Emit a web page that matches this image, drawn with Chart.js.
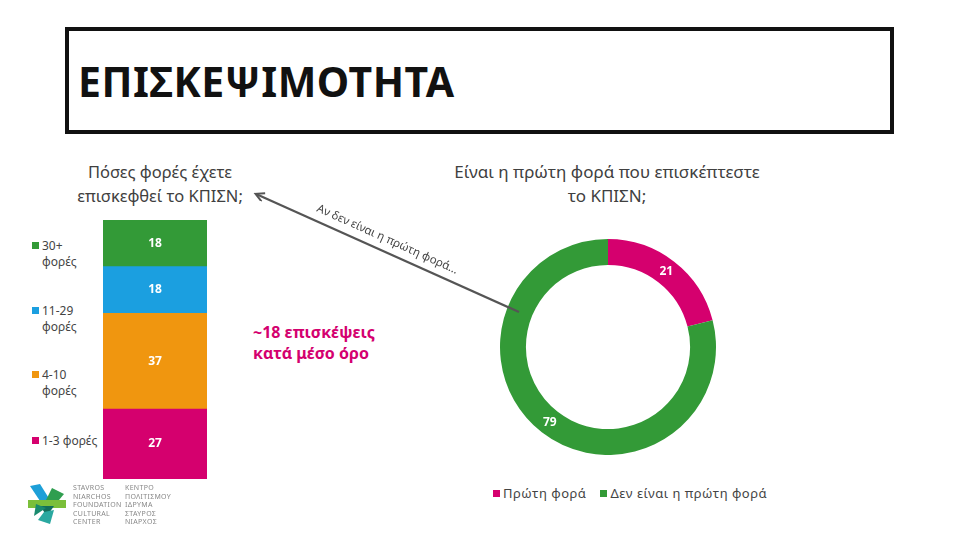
<!DOCTYPE html>
<html>
<head>
<meta charset="utf-8">
<script src="https://cdn.jsdelivr.net/npm/chart.js@4"></script>
<style>
  body { margin: 0; width: 960px; height: 540px; background: #fff; position: relative; overflow: hidden; font-family: "Noto Sans", "DejaVu Sans", sans-serif; }
  .abs { position: absolute; }
  #titleBox { left: 65px; top: 27px; width: 821px; height: 99px; border: 4px solid #111; }
  #titleBox span { position: absolute; left: 9px; top: 22px; font-size: 41px; font-weight: bold; color: #111; letter-spacing: 0.5px; }
  .qtitle { color: #404040; font-size: 17px; line-height: 24px; text-align: center; }
  .leg { font-size: 12px; color: #444; line-height: 16px; }
  .sw { display: inline-block; width: 7px; height: 7px; margin-right: 3px; vertical-align: 1px; }
  .note { color: #d4006f; font-weight: bold; font-size: 16px; line-height: 21px; }
  .logoTxt { font-size: 7px; line-height: 8.5px; color: #888; letter-spacing: 0.3px; }
</style>
</head>
<body>
<div id="titleBox" class="abs"><span>ΕΠΙΣΚΕΨΙΜΟΤΗΤΑ</span></div>

<div class="abs qtitle" style="left:40px; top:160px; width:240px; font-size:16.5px;">Πόσες φορές έχετε<br>επισκεφθεί το ΚΠΙΣΝ;</div>
<div class="abs qtitle" style="left:447px; top:160px; width:320px;">Είναι η πρώτη φορά που επισκέπτεστε<br>το ΚΠΙΣΝ;</div>

<div id="barLegend"></div>

<div class="abs note" style="left:253px; top:322px;">~18 επισκέψεις<br>κατά μέσο όρο</div>

<div class="abs" style="left:103px; top:220px; width:104px; height:259px;"><canvas id="barChart"></canvas></div>
<div class="abs" style="left:500px; top:239px; width:216px; height:216px;"><canvas id="donutChart"></canvas></div>

<div id="donutLegend" class="abs leg" style="left:493px; top:485px; font-size:13px; letter-spacing:0.5px;"></div>

<svg class="abs" style="left:0; top:0;" width="960" height="540">
  <defs>
    <marker id="ah" markerWidth="12" markerHeight="12" refX="9" refY="5" orient="auto" markerUnits="userSpaceOnUse">
      <path d="M1,0.5 L9.5,5 L1,9.5" fill="none" stroke="#555" stroke-width="2"/>
    </marker>
  </defs>
  <line x1="519" y1="312" x2="256" y2="194" stroke="#555" stroke-width="2.2" marker-end="url(#ah)"/>
  <text x="0" y="0" transform="translate(316,211) rotate(24.2)" font-size="11.5" fill="#444" font-family="Noto Sans, sans-serif">Αν δεν είναι η πρώτη φορά...</text>
  <!-- logo -->
  <g transform="translate(28,484)">
    <polygon points="2,2 12,0 22,16 14,20" fill="#1d9fd8"/>
    <polygon points="24,4 36,10 26,22 18,16" fill="#2f9e4f"/>
    <polygon points="0,16 38,16 38,24 0,24" fill="#7bbf3a"/>
    <polygon points="12,22 26,22 19,32" fill="#126e5a"/>
    <polygon points="16,28 26,26 22,40 10,36" fill="#2aa8a0"/>
    <polygon points="8,20 18,24 6,32" fill="#1a8a6e"/>
  </g>
</svg>
<div class="abs logoTxt" style="left:73px; top:484px;">STAVROS<br>NIARCHOS<br>FOUNDATION<br>CULTURAL<br>CENTER</div>
<div class="abs logoTxt" style="left:125px; top:484px;">ΚΕΝΤΡΟ<br>ΠΟΛΙΤΙΣΜΟΥ<br>ΙΔΡΥΜΑ<br>ΣΤΑΥΡΟΣ<br>ΝΙΑΡΧΟΣ</div>

<script>
// Δεδομένα
const visitCategories = ['1-3 φορές', '4-10 φορές', '11-29 φορές', '30+ φορές'];
const visitLegendLines = [['1-3 φορές'], ['4-10', 'φορές'], ['11-29', 'φορές'], ['30+', 'φορές']];
const visitValues = [27, 37, 18, 18];
const visitColors = ['#d5006e', '#f0960f', '#1b9fe0', '#339a37'];

const firstLabels = ['Πρώτη φορά', 'Δεν είναι η πρώτη φορά'];
const firstValues = [21, 79];
const firstColors = ['#d5006e', '#339a37'];

// plugin nhỏ để vẽ số ở giữa mỗi phần
const valueLabels = {
  id: 'valueLabels',
  afterDatasetsDraw(chart) {
    const ctx = chart.ctx;
    ctx.save();
    ctx.fillStyle = '#fff';
    ctx.font = 'bold 12px "Noto Sans", sans-serif';
    ctx.textAlign = 'center';
    ctx.textBaseline = 'middle';
    chart.data.datasets.forEach((ds, i) => {
      chart.getDatasetMeta(i).data.forEach((el, j) => {
        const p = chart.config.type === 'bar' ? el.getCenterPoint() : el.tooltipPosition();
        ctx.fillText(ds.data[j], p.x, p.y);
      });
    });
    ctx.restore();
  }
};

new Chart(document.getElementById('barChart'), {
  type: 'bar',
  data: {
    labels: [''],
    datasets: visitCategories.map((c, i) => ({
      label: c,
      data: [visitValues[i]],
      backgroundColor: visitColors[i],
      barPercentage: 1,
      categoryPercentage: 1
    }))
  },
  options: {
    responsive: true,
    maintainAspectRatio: false,
    animation: false,
    plugins: { legend: { display: false }, tooltip: { enabled: false } },
    scales: {
      x: { stacked: true, display: false },
      y: { stacked: true, display: false, min: 0, max: 100 }
    }
  },
  plugins: [valueLabels]
});

new Chart(document.getElementById('donutChart'), {
  type: 'doughnut',
  data: {
    labels: firstLabels,
    datasets: [{ data: firstValues, backgroundColor: firstColors, borderWidth: 0 }]
  },
  options: {
    responsive: true,
    maintainAspectRatio: false,
    animation: false,
    cutout: '76%',
    plugins: { legend: { display: false }, tooltip: { enabled: false } }
  },
  plugins: [valueLabels]
});

// legend bên trái (từ trên xuống)
const legendTops = [433, 367, 303, 238];
const barLegend = document.getElementById('barLegend');
visitLegendLines.forEach((lines, i) => {
  const d = document.createElement('div');
  d.className = 'abs leg';
  d.style.left = '32px';
  d.style.top = legendTops[i] + 'px';
  d.innerHTML = '<span class="sw" style="background:' + visitColors[i] + '"></span>' + lines[0] +
    (lines[1] ? '<br><span style="margin-left:10px">' + lines[1] + '</span>' : '');
  barLegend.appendChild(d);
});

const donutLegend = document.getElementById('donutLegend');
donutLegend.innerHTML = firstLabels.map((l, i) =>
  '<span class="sw" style="background:' + firstColors[i] + '"></span>' + l
).join('<span style="display:inline-block;width:14px"></span>');
</script>
</body>
</html>
